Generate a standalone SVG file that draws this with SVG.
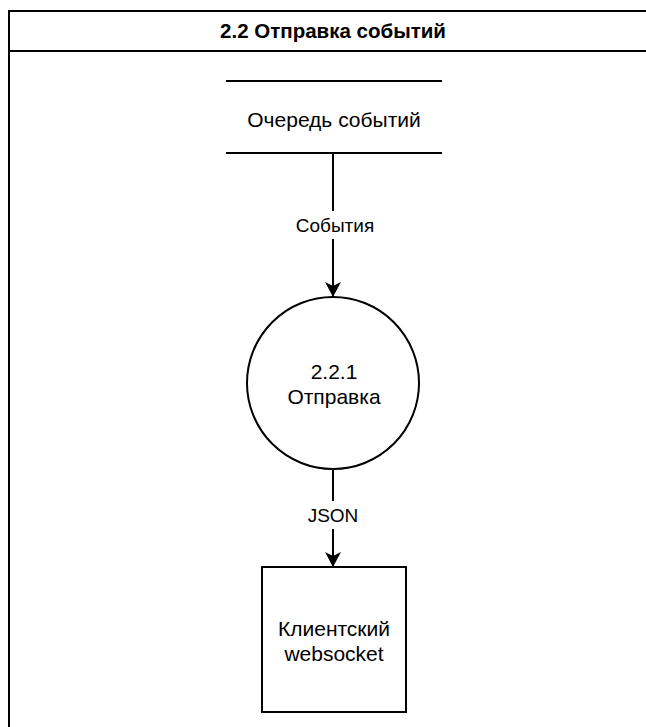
<svg xmlns="http://www.w3.org/2000/svg" width="646" height="727" viewBox="0 0 646 727">
<style>
.t{font-family:"Liberation Sans",Arial,sans-serif;font-size:21px;fill:#000;text-anchor:middle}
.b{font-weight:bold;font-size:20.5px}
.l{font-size:19px}
.s{fill:none;stroke:#000;stroke-width:2}
</style>
<defs>
<marker id="ar" markerWidth="16" markerHeight="16" refX="14" refY="8" orient="auto" markerUnits="userSpaceOnUse">
<path d="M0,0 L15,8 L0,16 L4,8 Z" fill="#000"/>
</marker>
</defs>
<rect width="646" height="727" fill="#fff"/>
<g id="frame">
<rect x="9" y="11" width="660" height="740" class="s"/>
<line x1="9" y1="51" x2="660" y2="51" class="s"/>
<text x="333" y="38" class="t b">2.2 Отправка событий</text>
</g>
<g id="connectors">
<line x1="333" y1="153" x2="333" y2="296" class="s" marker-end="url(#ar)"/>
<rect x="292" y="211" width="84" height="28" fill="#fff"/>
<text x="335" y="232" class="t l">События</text>
<line x1="333" y1="469" x2="333" y2="566" class="s" marker-end="url(#ar)"/>
<rect x="302" y="501" width="62" height="28" fill="#fff"/>
<text x="333" y="522" class="t l">JSON</text>
</g>
<g id="queue">
<line x1="226" y1="81" x2="442" y2="81" class="s"/>
<line x1="226" y1="153" x2="442" y2="153" class="s"/>
<text x="334" y="127" class="t">Очередь событий</text>
</g>
<g id="process">
<circle cx="333" cy="383" r="86" fill="#fff" stroke="#000" stroke-width="2"/>
<text x="334" y="379" class="t">2.2.1</text>
<text x="334" y="404" class="t">Отправка</text>
</g>
<g id="client">
<rect x="262" y="567" width="144" height="145" fill="#fff" stroke="#000" stroke-width="2"/>
<text x="334" y="636" class="t">Клиентский</text>
<text x="334" y="661" class="t">websocket</text>
</g>
</svg>
